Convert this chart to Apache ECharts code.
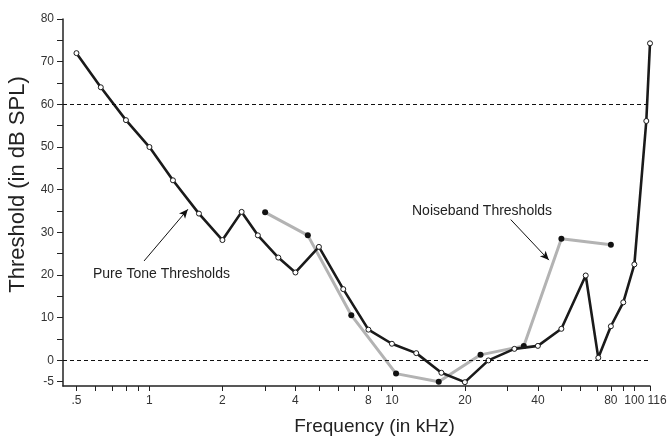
<!DOCTYPE html>
<html>
<head>
<meta charset="utf-8">
<script src="https://cdn.jsdelivr.net/npm/echarts@6/dist/echarts.min.js"></script>
<style>
  html, body { margin: 0; padding: 0; background: #fff; }
  #main { width: 667px; height: 438px; }
</style>
</head>
<body>
<div id="main"></div>
<script>
// frequency axis ticks (kHz)
var freqTicks = [0.5, 1, 2, 4, 8, 10, 20, 40, 80, 100, 116];
var freqTickLabels = ['.5', '1', '2', '4', '8', '10', '20', '40', '80', '100', '116'];
var freqMinorTicks = [0.6, 0.7, 0.8, 0.9, 3, 5, 6, 7, 9, 30, 50, 60, 70, 90];
var dbLabels = [-5, 0, 10, 20, 30, 40, 50, 60, 70, 80];
var dbTicks = [-5, 0, 5, 10, 15, 20, 25, 30, 35, 40, 45, 50, 55, 60, 65, 70, 75, 80];

// pure tone thresholds
var pureFreq = [0.5, 0.63, 0.8, 1, 1.25, 1.6, 2, 2.4, 2.8, 3.4, 4, 5, 6.3, 8, 10, 12.6, 16, 20, 25, 32, 40, 50, 63, 71, 80, 90, 100, 112, 116];
var pureDb = [72, 64, 56.3, 50, 42.2, 34.4, 28.2, 34.8, 29.3, 24.1, 20.6, 26.6, 16.7, 7.2, 3.9, 1.7, -2.9, -5.1, 0, 2.7, 3.4, 7.4, 19.9, 0.6, 8, 13.6, 22.5, 56.1, 74.3];

// noiseband thresholds
var noiseFreq = [3, 4.5, 6.8, 10.4, 15.6, 23.2, 35, 50, 80];
var noiseDb = [34.7, 29.3, 10.6, -3.1, -5, 1.3, 3.4, 28.5, 27.1];

var refLines = [60, 0];

var xMin = 0.44, xMax = 116;
var font = '"Liberation Sans", Arial, sans-serif';

function pairs(xs, ys) {
  return xs.map(function (x, i) { return [x, ys[i]]; });
}
var log10 = function (v) { return Math.log(v) / Math.log(10); };
var labelPos = freqTicks.map(log10);

var myChart = echarts.init(document.getElementById('main'));

var dashed = { color: '#111', width: 1, type: [4, 3] };
var arrowLine = { color: '#111', width: 1, type: 'solid' };

var option = {
  animation: false,
  backgroundColor: '#fff',
  grid: { left: 63, right: 17, top: 19, bottom: 52, outerBoundsMode: 'none', containLabel: false },
  xAxis: [
    {
      // data axis (log scale), drawn invisibly
      type: 'log',
      logBase: 10,
      min: xMin,
      max: xMax,
      axisLine: { show: false, onZero: false },
      axisTick: { show: false },
      axisLabel: { show: false },
      splitLine: { show: false },
      minorTick: { show: false },
      minorSplitLine: { show: false }
    },
    {
      // tick / label axis in log10 units
      type: 'value',
      position: 'bottom',
      min: log10(xMin),
      max: log10(xMax) + 1e-9,
      name: 'Frequency (in kHz)',
      nameLocation: 'middle',
      nameGap: 31,
      nameTextStyle: { fontSize: 19, color: '#222', fontFamily: font, padding: [0, 0, 0, 36] },
      axisLine: { onZero: false, lineStyle: { color: '#222', width: 1.5 } },
      axisTick: {
        length: 5,
        lineStyle: { color: '#222', width: 1 },
        customValues: freqTicks.concat(freqMinorTicks).map(log10)
      },
      axisLabel: {
        margin: 9,
        fontSize: 12,
        color: '#333',
        fontFamily: font,
        hideOverlap: false,
        showMinLabel: true,
        showMaxLabel: true,
        customValues: labelPos,
        formatter: function (v) {
          for (var i = 0; i < labelPos.length; i++) {
            if (Math.abs(labelPos[i] - v) < 1e-6) {
              return i === labelPos.length - 1 ? '{p|' + freqTickLabels[i] + '}' : freqTickLabels[i];
            }
          }
          return '';
        },
        rich: {
          p: { fontSize: 12, color: '#333', fontFamily: font, padding: [0, 0, 0, 14] }
        }
      },
      splitLine: { show: false }
    }
  ],
  yAxis: {
    type: 'value',
    min: -6,
    max: 80,
    name: 'Threshold (in dB SPL)',
    nameLocation: 'middle',
    nameRotate: 90,
    nameGap: 34,
    nameTextStyle: { fontSize: 22, color: '#222', fontFamily: font, padding: [0, 0, 0, 36] },
    axisLine: { show: true, onZero: false, lineStyle: { color: '#222', width: 1.5 } },
    axisTick: { show: true, length: 6, lineStyle: { color: '#222', width: 1 }, customValues: dbTicks },
    axisLabel: { margin: 9, fontSize: 12, color: '#333', fontFamily: font, customValues: dbLabels },
    splitLine: { show: false }
  },
  series: [
    {
      name: 'Noiseband Thresholds',
      type: 'line',
      xAxisIndex: 0,
      data: pairs(noiseFreq, noiseDb),
      symbol: 'circle',
      symbolSize: 6,
      lineStyle: { color: '#b3b3b3', width: 3 },
      itemStyle: { color: '#111', borderWidth: 0 },
      z: 2,
      markLine: {
        silent: true,
        label: { show: false },
        data: [
          [
            { coord: [0.95, 23.3], symbol: 'none', lineStyle: arrowLine },
            { coord: [1.44, 35.4], symbol: 'arrow', symbolSize: [6, 9] }
          ],
          [
            { coord: [30.9, 33.0], symbol: 'none', lineStyle: arrowLine },
            { coord: [44.4, 23.5], symbol: 'arrow', symbolSize: [6, 9] }
          ]
        ]
      }
    },
    {
      name: 'Pure Tone Thresholds',
      type: 'line',
      xAxisIndex: 0,
      data: pairs(pureFreq, pureDb),
      symbol: 'circle',
      symbolSize: 5,
      lineStyle: { color: '#1a1a1a', width: 2.6 },
      itemStyle: { color: '#fff', borderColor: '#1a1a1a', borderWidth: 1 },
      z: 3,
      markLine: {
        silent: true,
        symbol: 'none',
        label: { show: false },
        lineStyle: dashed,
        data: refLines.map(function (v) { return { yAxis: v }; })
      }
    }
  ],
  graphic: [
    {
      type: 'text',
      left: 93,
      top: 267,
      style: { text: 'Pure Tone Thresholds', font: '14px ' + font, fill: '#222' }
    },
    {
      type: 'text',
      left: 412,
      top: 204,
      style: { text: 'Noiseband Thresholds', font: '14px ' + font, fill: '#222' }
    }
  ]
};

myChart.setOption(option);
</script>
</body>
</html>
